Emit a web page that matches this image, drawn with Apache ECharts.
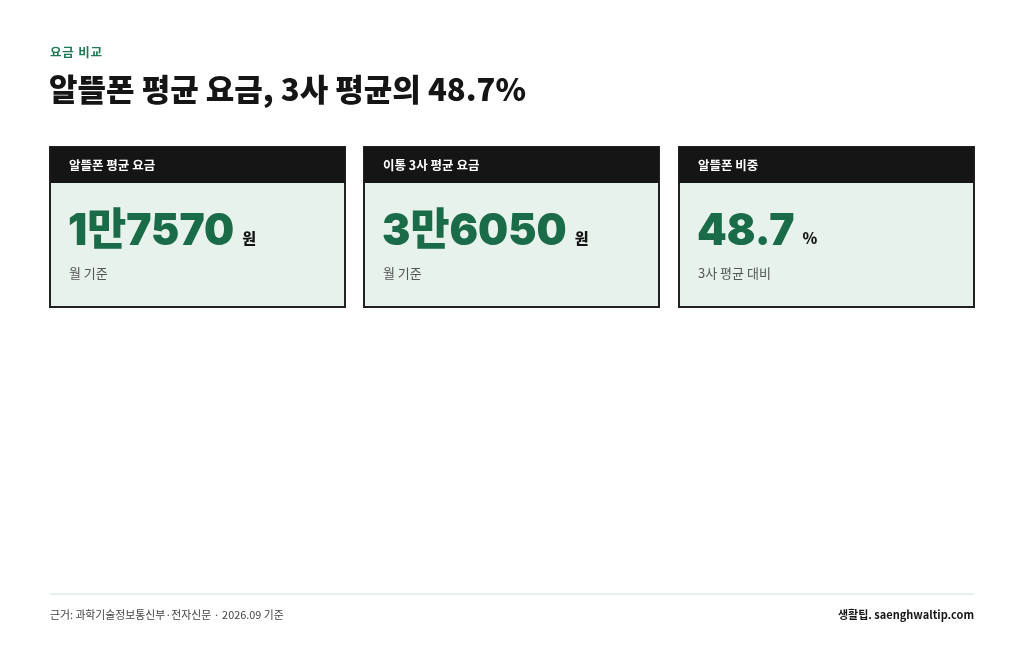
<!DOCTYPE html>
<html><head><meta charset="utf-8">
<script src="https://cdn.jsdelivr.net/npm/echarts@6/dist/echarts.min.js"></script>
<style>html,body{margin:0;padding:0;background:#fff}#c{width:1024px;height:658px}</style>
</head><body><div id="c"></div>
<script>
const eyebrow = '요금 비교';
const title = '알뜰폰 평균 요금, 3사 평균의 48.7%';
const cardLabels = ['알뜰폰 평균 요금', '이통 3사 평균 요금', '알뜰폰 비중'];
const cardValues = ['1만7570', '3만6050', '48.7'];
const cardUnits = ['원', '원', '%'];
const cardNotes = ['월 기준', '월 기준', '3사 평균 대비'];
const sourceText = '근거: 과학기술정보통신부·전자신문 · 2026.09 기준';
const brandText = '생활팁. saenghwaltip.com';

const FONT = 'Inter, "Noto Sans CJK KR", sans-serif';
const KFONT = '"Noto Sans CJK KR", Inter, sans-serif';
const chart = echarts.init(document.getElementById('c'), null, {renderer:'canvas'});

const VFONT = '900 44px ' + FONT;
const VSCALE = 0.965;
const mctx = document.createElement('canvas').getContext('2d');
function textW(t, f){ mctx.font = f; return mctx.measureText(t).width; }

const cardX = [50, 364, 679], cardW = 295, cardY = 147, cardH = 160, headH = 36;
const els = [];
els.push({type:'text', left:50, top:46, style:{text:eyebrow.split('').join('\u200a'), font:'700 12.5px '+KFONT, fill:'#1f7a55'}});
els.push({type:'text', left:49, top:74, style:{text:title, font:'800 31px '+KFONT, fill:'#151515'}});
cardLabels.forEach((lab, i) => {
  const x = cardX[i];
  els.push({type:'rect', shape:{x:x, y:cardY, width:cardW, height:cardH}, style:{fill:'#e8f2ec', stroke:'#222', lineWidth:2}});
  els.push({type:'rect', shape:{x:x, y:cardY, width:cardW, height:headH}, style:{fill:'#151515'}});
  els.push({type:'text', x:x+19, y:cardY+headH/2, style:{text:lab, font:'700 12.5px '+KFONT, fill:'#fff', verticalAlign:'middle'}});
  const vx = x + 18, vy = cardY + 85;
  els.push({type:'text', x:vx, y:vy, scaleX:VSCALE, style:{text:cardValues[i], font:VFONT, fill:'#1a6b47', verticalAlign:'middle'}});
  const w = textW(cardValues[i], VFONT) * VSCALE;
  els.push({type:'text', x:vx + w + 8, y:cardY+91, style:{text:cardUnits[i], font:'800 15px '+KFONT, fill:'#151515', verticalAlign:'middle'}});
  els.push({type:'text', x:x+19, y:cardY+126, style:{text:cardNotes[i], font:'400 13px '+KFONT, fill:'#555', verticalAlign:'middle'}});
});
els.push({type:'line', shape:{x1:50, y1:594, x2:974, y2:594}, style:{stroke:'#d3e3dd', lineWidth:1}});
els.push({type:'text', x:50, y:615, style:{text:sourceText, font:'400 10.85px '+KFONT, fill:'#444', verticalAlign:'middle'}});
els.push({type:'text', x:974, y:615, style:{text:brandText, font:'700 11px '+KFONT, fill:'#151515', align:'right', verticalAlign:'middle'}});

chart.setOption({backgroundColor:'#fff', animation:false, graphic:{elements:els}});
</script></body></html>
